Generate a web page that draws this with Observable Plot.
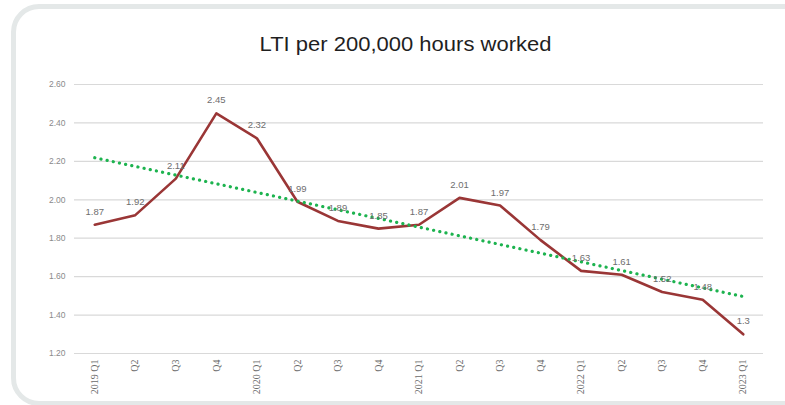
<!DOCTYPE html>
<html>
<head>
<meta charset="utf-8">
<script src="https://cdn.jsdelivr.net/npm/d3@7"></script>
<script src="https://cdn.jsdelivr.net/npm/@observablehq/plot@0.6"></script>
<style>
  html, body { margin: 0; padding: 0; background: #fff; width: 785px; height: 405px; overflow: hidden; }
  #card { position: absolute; left: 11px; top: 4px; width: 800px; height: 392px; border: 5px solid #e4e8e8; border-radius: 28px; background: #fff; }
  #title { position: absolute; left: 0; top: 32px; width: 811px; text-align: center; font-family: "Liberation Sans", Arial, sans-serif; font-size: 22px; color: #1f1f1f; transform: scaleY(0.9); }
  #chart { position: absolute; left: 0; top: 60px; }
</style>
</head>
<body>
<div id="card"></div>
<div id="title">LTI per 200,000 hours worked</div>
<div id="chart"></div>
<script>
const quarters = ["2019 Q1","Q2","Q3","Q4","2020 Q1","Q2","Q3","Q4","2021 Q1","Q2","Q3","Q4","2022 Q1","Q2","Q3","Q4","2023 Q1"];
const lti = [1.87,1.92,2.11,2.45,2.32,1.99,1.89,1.85,1.87,2.01,1.97,1.79,1.63,1.61,1.52,1.48,1.3];
const yTicks = [1.2,1.4,1.6,1.8,2.0,2.2,2.4,2.6];

const data = lti.map((v, i) => ({i, v, q: quarters[i]}));

const plot = Plot.plot({
  width: 785,
  height: 345,
  marginLeft: 74,
  marginRight: 22,
  marginTop: 24,
  marginBottom: 52,
  style: {fontFamily: "'Liberation Sans', sans-serif", background: "transparent", overflow: "visible"},
  x: {domain: [-0.5, quarters.length - 0.5], axis: null},
  y: {domain: [1.2, 2.6], axis: null},
  marks: [
    Plot.ruleY(yTicks, {stroke: "#d9d9d9", strokeWidth: 1.2}),
    Plot.axisY({ticks: yTicks, tickFormat: d3.format(".2f"), tickSize: 0, tickPadding: 9, fontSize: 8.5, fill: "#8a8a8a", label: null}),
    Plot.axisX({ticks: d3.range(quarters.length), tickFormat: i => quarters[i], tickSize: 0, tickPadding: 6, tickRotate: -90, fontSize: 10, fill: "#6a6a6a", label: null, fontFamily: "'Liberation Serif', serif"}),
    Plot.lineY(data, {x: "i", y: "v", stroke: "#9a3636", strokeWidth: 2.6, strokeLinejoin: "round"}),
    Plot.linearRegressionY(data, {x: "i", y: "v", ci: 0, stroke: "#1db34f", strokeWidth: 3.2, strokeDasharray: "0.1,6.2", strokeLinecap: "round", strokeOpacity: 1}),
    Plot.text(data, {x: "i", y: "v", text: d => String(d.v), dy: -13, fontSize: 9.5, fill: "#6e6e6e"})
  ]
});
document.getElementById("chart").appendChild(plot);
</script>
</body>
</html>
